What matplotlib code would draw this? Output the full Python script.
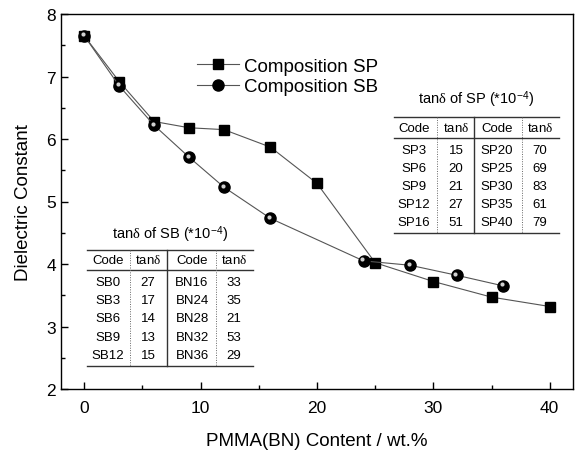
import matplotlib
matplotlib.use("Agg")
import matplotlib.pyplot as plt
import matplotlib.transforms as mtransforms
from matplotlib.lines import Line2D
from matplotlib.ticker import MultipleLocator

plt.rcParams['font.family'] = ['Liberation Sans', 'DejaVu Sans']
plt.rcParams['mathtext.fontset'] = 'custom'
plt.rcParams['mathtext.rm'] = 'Liberation Sans'
plt.rcParams['mathtext.it'] = 'Liberation Serif'

# data
sp_x = [0, 3, 6, 9, 12, 16, 20, 25, 30, 35, 40]
sp_y = [7.65, 6.92, 6.28, 6.18, 6.15, 5.87, 5.29, 4.02, 3.72, 3.47, 3.32]
sb_x = [0, 3, 6, 9, 12, 16, 24, 28, 32, 36]
sb_y = [7.65, 6.85, 6.22, 5.71, 5.23, 4.73, 4.05, 3.98, 3.82, 3.65]

sp_codes1 = ["SP3", "SP6", "SP9", "SP12", "SP16"]
sp_tan1 = ["15", "20", "21", "27", "51"]
sp_codes2 = ["SP20", "SP25", "SP30", "SP35", "SP40"]
sp_tan2 = ["70", "69", "83", "61", "79"]

sb_codes1 = ["SB0", "SB3", "SB6", "SB9", "SB12"]
sb_tan1 = ["27", "17", "14", "13", "15"]
sb_codes2 = ["BN16", "BN24", "BN28", "BN32", "BN36"]
sb_tan2 = ["33", "35", "21", "53", "29"]

W, H = 581, 452
fig = plt.figure(figsize=(W / 100, H / 100), dpi=100)
ax = fig.add_axes([61 / W, 1 - 390 / H, (573 - 61) / W, (390 - 15) / H])

line_col = '#555555'
ax.plot(sp_x, sp_y, color=line_col, lw=0.8, marker='s', ms=7,
        mfc='black', mec='black', label='Composition SP', zorder=3)
ax.plot(sb_x, sb_y, color=line_col, lw=0.8, marker='o', ms=8,
        mfc='black', mec='black', label='Composition SB', zorder=3)
# highlight on the spheres
hl = mtransforms.offset_copy(ax.transData, fig=fig, x=-1.0, y=1.0, units='points')
ax.plot(sb_x, sb_y, ls='none', marker='o', ms=3, mfc='#d0d0d0', mec='none',
        transform=hl, zorder=4)

ax.set_xlim(-2, 42)
ax.set_ylim(2, 8)
ax.xaxis.set_major_locator(MultipleLocator(10))
ax.xaxis.set_minor_locator(MultipleLocator(5))
ax.yaxis.set_major_locator(MultipleLocator(1))
ax.yaxis.set_minor_locator(MultipleLocator(0.5))
ax.tick_params(which='both', direction='in', labelsize=12.5, width=1)
ax.tick_params(which='major', length=5)
ax.tick_params(which='minor', length=3)
ax.tick_params(axis='x', pad=8)
for s in ax.spines.values():
    s.set_linewidth(1.0)

ax.set_xlabel('PMMA(BN) Content / wt.%', fontsize=13.5, labelpad=12)
ax.set_ylabel('Dielectric Constant', fontsize=13.5, labelpad=10)

# legend
h_sp = Line2D([], [], color=line_col, lw=0.8, marker='s', ms=7, mfc='black', mec='black')
h_sb = Line2D([], [], color=line_col, lw=0.8, marker='o', ms=8, mfc='black', mec='black')
leg = fig.legend([h_sp, h_sb], ['Composition SP', 'Composition SB'],
                 loc='upper left', bbox_to_anchor=(188 / W, 1 - 49 / H),
                 frameon=False, fontsize=13.5, handlelength=2.2,
                 handletextpad=0.3, labelspacing=0.2, borderpad=0)

DELTA = r'tan$\delta$'


def px(x, y):
    return x / W, 1 - y / H


def draw_table(title, title_y, left, right, cols, dotted, solid,
               top, head_y, head_line, rows_y, bottom, c1, t1, c2, t2):
    fig.text(*px((left + right) / 2, title_y), title, ha='center', va='center',
             fontsize=10.5)
    for yy in [top, head_line, bottom]:
        fig.add_artist(Line2D([left / W, right / W], [1 - yy / H] * 2,
                              color='#333333', lw=1.0))
    fig.add_artist(Line2D([solid / W] * 2, [1 - top / H, 1 - bottom / H],
                          color='#333333', lw=1.0))
    for d in dotted:
        fig.add_artist(Line2D([d / W] * 2, [1 - top / H, 1 - bottom / H],
                              color='#666666', lw=0.7, ls=(0, (1, 1.5))))
    heads = ['Code', DELTA, 'Code', DELTA]
    for cx, h in zip(cols, heads):
        fig.text(*px(cx, head_y), h, ha='center', va='center', fontsize=9.5)
    for i, ry in enumerate(rows_y):
        for cx, v in zip(cols, [c1[i], t1[i], c2[i], t2[i]]):
            fig.text(*px(cx, ry), v, ha='center', va='center', fontsize=9.5)


draw_table(r'tan$\delta$ of SP (*10$^{\mathrm{-4}}$)', 100, 394, 559,
           [414, 456, 497, 540], [437, 522], 474,
           118, 129, 139, [151, 169, 187, 205, 223], 234,
           sp_codes1, sp_tan1, sp_codes2, sp_tan2)

draw_table(r'tan$\delta$ of SB (*10$^{\mathrm{-4}}$)', 235, 87, 253,
           [108, 148, 192, 234], [130, 216], 167,
           251, 261, 271, [283, 301, 319, 338, 356], 367,
           sb_codes1, sb_tan1, sb_codes2, sb_tan2)

fig.savefig('out.png', dpi=100)
